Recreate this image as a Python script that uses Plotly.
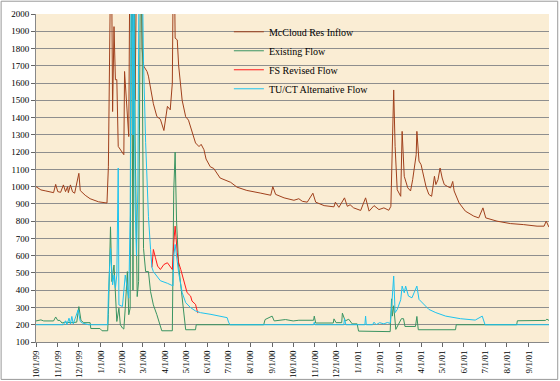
import plotly.graph_objects as go
import pandas as pd

# ---- data (date, cfs) ----
inflow = [("1999-10-01",1000),("1999-10-08",981),("1999-10-15",975),("1999-10-22",971),("1999-10-26",965),
 ("1999-10-29",1013),("1999-11-01",971),("1999-11-05",967),("1999-11-09",1010),("1999-11-12",971),
 ("1999-11-15",1000),("1999-11-16",965),("1999-11-19",1010),("1999-11-22",970),("1999-11-25",962),
 ("1999-12-01",1077),("1999-12-03",977),("1999-12-10",950),("1999-12-17",930),("1999-12-29",912),
 ("2000-01-10",905),("2000-01-12",1115),("2000-01-13",1500),("2000-01-14",1660),("2000-01-16",2600),
 ("2000-01-18",1435),("2000-01-20",1927),("2000-01-22",1619),("2000-01-24",1620),("2000-01-26",1233),
 ("2000-01-29",1214),("2000-02-03",1185),("2000-02-04",1667),("2000-02-07",1500),("2000-02-10",1290),
 ("2000-02-12",2600),("2000-02-15",1900),("2000-02-17",2600),("2000-02-19",1503),("2000-02-22",2600),
 ("2000-02-25",2200),("2000-02-27",2600),("2000-02-29",1800),("2000-03-02",1700),("2000-03-07",1667),
 ("2000-03-09",1640),("2000-03-12",1580),("2000-03-16",1480),("2000-03-21",1406),("2000-03-26",1390),
 ("2000-03-31",1325),("2000-04-05",1465),("2000-04-09",1445),("2000-04-12",1600),("2000-04-14",2600),
 ("2000-04-16",1860),("2000-04-19",1850),("2000-04-21",1700),("2000-04-26",1500),("2000-05-01",1405),
 ("2000-05-05",1385),("2000-05-10",1315),("2000-05-15",1253),("2000-05-20",1232),("2000-05-23",1245),
 ("2000-05-27",1214),("2000-05-30",1160),("2000-06-05",1115),("2000-06-10",1105),("2000-06-19",1050),
 ("2000-07-04",1025),("2000-07-13",997),("2000-07-27",978),("2000-08-15",963),("2000-08-30",950),
 ("2000-09-02",1000),("2000-09-06",955),("2000-09-18",935),("2000-10-02",921),("2000-10-09",930),
 ("2000-10-14",915),("2000-10-21",910),("2000-10-29",962),("2000-11-02",910),("2000-11-14",890),
 ("2000-11-28",883),("2000-11-30",910),("2000-12-05",880),("2000-12-13",935),("2000-12-17",886),
 ("2000-12-21",895),("2000-12-26",877),("2001-01-05",862),("2001-01-12",935),("2001-01-17",858),
 ("2001-01-24",890),("2001-01-31",867),("2001-02-07",877),("2001-02-14",863),("2001-02-17",886),
 ("2001-02-18",1080),("2001-02-20",1427),("2001-02-21",1560),("2001-02-23",1233),("2001-02-26",982),
 ("2001-03-03",944),("2001-03-05",1320),("2001-03-08",1060),("2001-03-13",993),("2001-03-17",975),
 ("2001-03-20",1040),("2001-03-25",1185),("2001-03-26",1320),("2001-03-29",1148),("2001-04-01",1127),
 ("2001-04-03",1090),("2001-04-08",1000),("2001-04-12",955),("2001-04-16",944),("2001-04-20",1060),
 ("2001-04-22",1012),("2001-04-25",1040),("2001-04-28",1108),("2001-05-01",1050),("2001-05-04",1012),
 ("2001-05-09",1000),("2001-05-13",993),("2001-05-16",1030),("2001-05-18",975),("2001-05-25",906),
 ("2001-06-03",858),("2001-06-15",829),("2001-06-22",819),("2001-06-28",877),("2001-07-02",819),
 ("2001-07-18",800),("2001-08-06",786),("2001-08-25",780),("2001-09-13",771),("2001-09-23",771),
 ("2001-09-26",800),("2001-09-30",765)]

existing = [("1999-10-01",222),("1999-10-08",228),("1999-10-12",222),("1999-10-26",222),("1999-10-29",245),
 ("1999-11-01",225),("1999-11-04",225),("1999-11-07",210),("1999-11-12",215),("1999-11-20",212),
 ("1999-11-28",215),("1999-12-01",305),("1999-12-04",225),("1999-12-08",212),("1999-12-17",212),
 ("1999-12-18",178),("1999-12-31",178),("2000-01-03",165),("2000-01-11",165),("2000-01-12",258),
 ("2000-01-15",767),("2000-01-17",450),("2000-01-20",546),("2000-01-22",412),("2000-01-24",219),
 ("2000-01-27",296),("2000-01-29",200),("2000-02-01",181),("2000-02-03",175),("2000-02-05",296),
 ("2000-02-08",508),("2000-02-10",258),("2000-02-12",296),("2000-02-14",2600),("2000-02-16",400),
 ("2000-02-18",2600),("2000-02-19",1300),("2000-02-22",363),("2000-02-24",450),("2000-02-27",2600),
 ("2000-02-29",1850),("2000-03-02",642),("2000-03-05",508),("2000-03-09",508),("2000-03-12",392),
 ("2000-03-16",315),("2000-03-21",258),("2000-03-26",200),("2000-03-28",165),("2000-04-12",165),
 ("2000-04-14",975),("2000-04-16",1200),("2000-04-18",800),("2000-04-21",540),("2000-04-26",346),
 ("2000-05-01",171),("2000-05-15",171),("2000-05-16",200),("2000-08-20",200),("2000-08-22",230),
 ("2000-09-01",250),("2000-09-04",222),("2000-09-20",230),("2000-10-01",222),("2000-10-09",226),
 ("2000-10-30",226),("2000-10-31",250),("2000-11-02",210),("2000-11-27",210),("2000-11-28",234),
 ("2000-12-01",212),("2000-12-09",212),("2000-12-10",267),("2000-12-14",222),("2000-12-19",232),
 ("2000-12-24",205),("2000-12-31",205),("2001-01-02",163),("2001-02-16",160),("2001-02-18",350),
 ("2001-02-19",250),("2001-02-21",310),("2001-02-24",173),("2001-03-04",235),("2001-03-07",235),
 ("2001-03-09",190),("2001-03-24",190),("2001-03-26",248),("2001-03-28",171),("2001-05-20",171),
 ("2001-05-21",200),("2001-08-15",200),("2001-08-16",223),("2001-09-25",225),("2001-09-27",232),
 ("2001-09-30",225)]

fs_revised = [("2000-03-14",532),("2000-03-15",600),("2000-03-16",636),("2000-03-19",588),("2000-03-22",540),
 ("2000-03-26",520),("2000-03-31",549),("2000-04-05",559),("2000-04-09",540),("2000-04-12",520),
 ("2000-04-14",675),("2000-04-16",771),("2000-04-19",617),("2000-04-21",559),("2000-04-24",520),
 ("2000-04-28",463),("2000-05-03",386),("2000-05-08",366),("2000-05-10",337),("2000-05-15",318),
 ("2000-05-18",270),("2000-05-19",272)]

tuct_alt = [("1999-10-01",200),("1999-11-09",200),("1999-11-12",223),("1999-11-14",200),("1999-11-17",238),
 ("1999-11-19",205),("1999-11-21",248),("1999-11-23",205),("1999-11-30",287),("1999-12-03",219),
 ("1999-12-06",210),("1999-12-15",200),("2000-01-11",200),("2000-01-12",373),("2000-01-15",642),
 ("2000-01-16",546),("2000-01-18",431),("2000-01-20",488),("2000-01-22",412),("2000-01-24",488),
 ("2000-01-26",1108),("2000-01-27",315),("2000-02-01",306),("2000-02-05",488),("2000-02-08",392),
 ("2000-02-10",354),("2000-02-12",835),("2000-02-14",2600),("2000-02-16",1300),("2000-02-17",2600),
 ("2000-02-19",900),("2000-02-21",600),("2000-02-23",1000),("2000-02-25",2600),("2000-02-28",2600),
 ("2000-03-02",1720),("2000-03-05",1255),("2000-03-07",1000),("2000-03-09",828),("2000-03-12",636),
 ("2000-03-14",532),("2000-03-16",508),("2000-03-26",455),("2000-04-05",440),("2000-04-13",425),
 ("2000-04-14",597),("2000-04-16",665),("2000-04-21",501),("2000-04-26",386),("2000-05-01",328),
 ("2000-05-08",299),("2000-05-15",280),("2000-05-22",270),("2000-06-06",260),("2000-06-19",250),
 ("2000-06-29",241),("2000-07-01",215),("2000-07-03",200),("2000-10-30",200),("2000-10-31",215),
 ("2000-11-01",200),("2000-12-12",200),("2000-12-13",235),("2000-12-15",200),("2001-01-11",200),
 ("2001-01-12",250),("2001-01-13",200),("2001-01-22",200),("2001-01-24",215),("2001-01-27",200),
 ("2001-02-01",212),("2001-02-07",205),("2001-02-12",213),("2001-02-16",208),("2001-02-18",300),
 ("2001-02-21",482),("2001-02-23",270),("2001-02-26",288),("2001-03-03",345),("2001-03-05",424),
 ("2001-03-08",385),("2001-03-10",424),("2001-03-14",366),("2001-03-19",356),("2001-03-22",385),
 ("2001-03-26",424),("2001-03-29",347),("2001-04-03",328),("2001-04-12",289),("2001-04-22",270),
 ("2001-05-06",250),("2001-05-27",235),("2001-06-17",227),("2001-06-27",250),("2001-07-01",200),
 ("2001-09-30",200)]

series_names = ["McCloud Res Inflow", "Existing Flow", "FS Revised Flow", "TU/CT Alternative Flow"]
series_data = [inflow, existing, fs_revised, tuct_alt]
series_colors = ["#A0401C", "#3A9461", "#FF1A1A", "#1EC3EE"]

month_ticks = pd.date_range("1999-10-01", "2001-09-01", freq="MS")

fig = go.Figure()
for name, data, color in zip(series_names, series_data, series_colors):
    xs = [d for d, _ in data]
    ys = [v for _, v in data]
    fig.add_trace(go.Scatter(x=xs, y=ys, mode="lines", name=name,
                             line=dict(color=color, width=1)))

fig.update_layout(
    width=560, height=381, autosize=False,
    margin=dict(l=36, r=11, t=14, b=39, pad=0),
    paper_bgcolor="white",
    plot_bgcolor="#FAEDD4",
    font=dict(family="Liberation Serif, Times New Roman, serif", size=9, color="black"),
    showlegend=True,
    legend=dict(x=0.376, y=0.99, xanchor="left", yanchor="top",
                bgcolor="rgba(0,0,0,0)", font=dict(size=10),
                tracegroupgap=0),
    xaxis=dict(type="date", range=["1999-10-01", "2001-09-30"], automargin=False,
               tickvals=month_ticks, tickformat="%-m/%-d/%y", tickangle=-90,
               ticks="outside", ticklen=4, tickcolor="#666",
               showgrid=False, showline=True, linecolor="#888", linewidth=1,
               zeroline=False),
    yaxis=dict(range=[100, 2000], tick0=100, dtick=100, automargin=False,
               ticks="outside", ticklen=4, tickcolor="#666",
               showgrid=True, gridcolor="#8E8E8E", gridwidth=1,
               showline=True, linecolor="#888", linewidth=1, zeroline=False),
    shapes=[dict(type="rect", xref="paper", yref="paper",
                 x0=-0.068, x1=1.017, y0=-0.114, y1=1.039,
                 line=dict(color="#999", width=1), fillcolor="rgba(0,0,0,0)",
                 layer="below")],
)

fig.write_html("out.html", config={"displayModeBar": False},
               post_script="document.body.style.margin='0px';document.body.style.overflow='hidden';")
